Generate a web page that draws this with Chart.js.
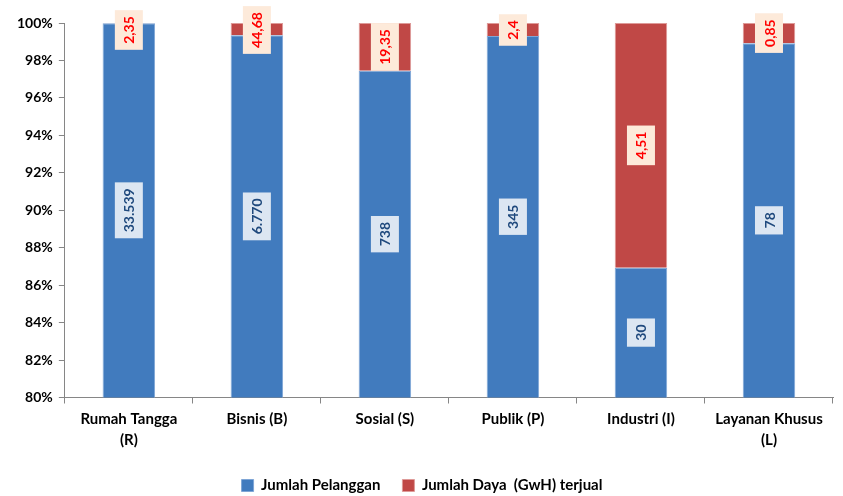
<!DOCTYPE html>
<html>
<head>
<meta charset="utf-8">
<script src="https://cdn.jsdelivr.net/npm/chart.js@4.4.1/dist/chart.umd.min.js"></script>
<style>
  html, body { margin: 0; padding: 0; background: #fff; }
  #wrap { width: 843px; height: 496px; }
</style>
</head>
<body>
<div id="wrap"><canvas id="mycanvas" width="843" height="496"></canvas></div>
<script>
var categories = [["Rumah Tangga", "(R)"], "Bisnis (B)", "Sosial (S)", "Publik (P)", "Industri (I)", ["Layanan Khusus", "(L)"]];
var pelanggan = [33539, 6770, 738, 345, 30, 78];
var dayaTerjual = [2.35, 44.68, 19.35, 2.4, 4.51, 0.85];
var yTicks = [80, 82, 84, 86, 88, 90, 92, 94, 96, 98, 100];

// share of each category in percent (100% stacked)
var pctPelanggan = [];
var pctDaya = [];
for (var i in pelanggan) {
    var total = pelanggan[i] + dayaTerjual[i];
    pctPelanggan.push(pelanggan[i] / total * 100);
    pctDaya.push(dayaTerjual[i] / total * 100);
}

function fmtInt(v) {
    return String(v).replace(/\B(?=(\d{3})+(?!\d))/g, ".");
}
function fmtDec(v) {
    return String(v).replace(".", ",");
}

var font = "Lato, 'Noto Sans', sans-serif";

var labelPlugin = {
    id: "boxLabels",
    afterDatasetsDraw: function(chart) {
        var ctx = chart.ctx;
        var area = chart.chartArea;
        chart.data.datasets.forEach(function(ds, di) {
            var meta = chart.getDatasetMeta(di);
            meta.data.forEach(function(bar, j) {
                var top = Math.max(Math.min(bar.y, bar.base), area.top);
                var bottom = Math.min(Math.max(bar.y, bar.base), area.bottom);
                var cy = (top + bottom) / 2;
                if (cy < area.top + 7) cy = area.top + 7;
                var text = ds.rawValues[j];
                ctx.save();
                ctx.font = "bold 14px " + font;
                var w = ctx.measureText(text).width;
                ctx.translate(bar.x, cy);
                ctx.rotate(-Math.PI / 2);
                ctx.fillStyle = ds.labelBg;
                ctx.fillRect(-w / 2 - 6, -14, w + 12, 28);
                ctx.fillStyle = ds.labelColor;
                ctx.textAlign = "center";
                ctx.textBaseline = "middle";
                ctx.fillText(text, 0, 1);
                ctx.restore();
            });
        });
    }
};

var chartdata = {
    labels: categories,
    datasets: [
        {
            label: "Jumlah Pelanggan",
            data: pctPelanggan,
            rawValues: pelanggan.map(fmtInt),
            backgroundColor: "#417BBE",
            borderColor: "#7FA6D6",
            borderWidth: 1,
            labelBg: "#DCE6F2",
            labelColor: "#1F497D"
        },
        {
            label: "Jumlah Daya  (GwH) terjual",
            data: pctDaya,
            rawValues: dayaTerjual.map(fmtDec),
            backgroundColor: "#C04846",
            borderColor: "#DE9A98",
            borderWidth: 1,
            labelBg: "#FDEADA",
            labelColor: "#FF0000"
        }
    ]
};

var ctx = document.getElementById("mycanvas");

var BarGraph = new Chart(ctx, {
    type: "bar",
    data: chartdata,
    plugins: [labelPlugin],
    options: {
        responsive: false,
        animation: false,
        layout: { padding: { left: 11, right: 10, top: 23, bottom: -7 } },
        datasets: {
            bar: { barPercentage: 0.41, categoryPercentage: 1.0 }
        },
        scales: {
            x: {
                stacked: true,
                grid: { offset: true, drawOnChartArea: false, tickLength: 6, color: "#868686" },
                border: { color: "#868686" },
                ticks: {
                    color: "#000",
                    font: { family: font, size: 15, weight: "bold", lineHeight: 1.35 },
                    maxRotation: 0,
                    padding: 6
                }
            },
            y: {
                stacked: true,
                min: 80,
                max: 100,
                afterBuildTicks: function(axis) {
                    axis.ticks = yTicks.map(function(v) { return { value: v }; });
                },
                grid: { drawOnChartArea: false, tickLength: 6, color: "#868686" },
                border: { color: "#868686" },
                ticks: {
                    color: "#000",
                    font: { family: font, size: 14, weight: "bold" },
                    padding: 6,
                    callback: function(v) { return v + "%"; }
                }
            }
        },
        plugins: {
            legend: {
                position: "bottom",
                labels: {
                    color: "#000",
                    font: { family: font, size: 15, weight: "bold" },
                    boxWidth: 12,
                    boxHeight: 12,
                    padding: 22
                }
            },
            tooltip: { enabled: false }
        }
    }
});
</script>
</body>
</html>
